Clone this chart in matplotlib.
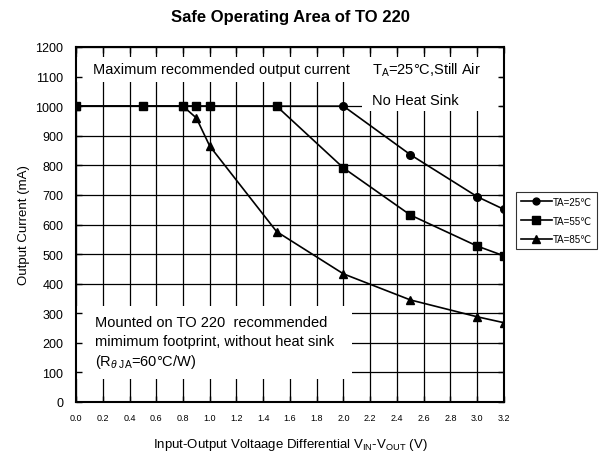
import matplotlib
matplotlib.use("Agg")
import matplotlib.pyplot as plt
from matplotlib.patches import Rectangle

plt.rcParams['font.family'] = ['Liberation Sans', 'DejaVu Sans']
plt.rcParams['mathtext.fontset'] = 'custom'
plt.rcParams['mathtext.rm'] = 'Liberation Sans'
plt.rcParams['mathtext.it'] = 'Liberation Sans:italic'

# Data
x25 = [0.0, 2.0, 2.5, 3.0, 3.2]
y25 = [1000, 1000, 836, 694, 651]
x55 = [0.0, 0.5, 0.8, 0.9, 1.0, 1.5, 2.0, 2.5, 3.0, 3.2]
y55 = [1000, 1000, 1000, 1000, 1000, 1000, 791, 632, 527, 494]
x85 = [0.0, 0.8, 0.9, 1.0, 1.5, 2.0, 2.5, 3.0, 3.2]
y85 = [1000, 1000, 960, 865, 576, 433, 345, 288, 268]
labels = ['TA=25\u2103', 'TA=55\u2103', 'TA=85\u2103']
xticks = [round(0.2 * i, 1) for i in range(17)]
yticks = list(range(0, 1201, 100))

fig = plt.figure(figsize=(6.02, 4.56), dpi=100)
rect = [76/602, 1 - 403/456, 428/602, 355/456]

# background axes carrying the grid only
gax = fig.add_axes(rect, zorder=0)
gax.set_xlim(0, 3.2)
gax.set_ylim(0, 1200)
gax.set_xticks(xticks)
gax.set_yticks(yticks)
gax.tick_params(length=0, labelbottom=False, labelleft=False)
gax.grid(True, color='black', linewidth=0.9)
for s in gax.spines.values():
    s.set_visible(False)

ax = fig.add_axes(rect, zorder=1)
ax.patch.set_visible(False)
ax.set_xlim(0, 3.2)
ax.set_ylim(0, 1200)
ax.set_xticks(xticks)
ax.set_xticklabels([f"{v:.1f}" for v in xticks], fontsize=6.5)
ax.set_yticks(yticks)
ax.set_yticklabels([str(v) for v in yticks], fontsize=9)
ax.tick_params(direction='in', length=4, width=1, top=True, right=True)
ax.tick_params(axis='y', pad=9)
ax.tick_params(axis='x', pad=8)
for s in ax.spines.values():
    s.set_linewidth(1.5)

# white annotation boxes covering the grid
for (x0, y0, w, h) in [(0.003, 0.901, 0.665, 0.071),
                       (0.668, 0.820, 0.323, 0.152),
                       (0.003, 0.065, 0.642, 0.205)]:
    ax.add_patch(Rectangle((x0, y0), w, h, transform=ax.transAxes,
                           facecolor='white', edgecolor='none', zorder=1))

l25, = ax.plot(x25, y25, color='black', lw=1.2, marker='o', ms=5.5, zorder=3, label=labels[0])
l85, = ax.plot(x85, y85, color='black', lw=1.2, marker='^', ms=6, zorder=3.5, label=labels[2])
l55, = ax.plot(x55, y55, color='black', lw=1.2, marker='s', ms=6, zorder=4, label=labels[1])

ax.text((93-76)/428, (403-70)/355, 'Maximum recommended output current',
        transform=ax.transAxes, fontsize=10.5, va='center', ha='left', zorder=5)
ax.text((372-76)/428, (403-70)/355, 'T$_\\mathrm{A}$=25°C,Still Air',
        transform=ax.transAxes, fontsize=10.5, va='center', ha='left', zorder=5)
ax.text((372-76)/428, (403-101)/355, 'No Heat Sink',
        transform=ax.transAxes, fontsize=10.5, va='center', ha='left', zorder=5)
ax.text((95-76)/428, (403-323)/355, 'Mounted on TO 220  recommended',
        transform=ax.transAxes, fontsize=10.5, va='center', ha='left', zorder=5)
ax.text((95-76)/428, (403-342)/355, 'mimimum footprint, without heat sink',
        transform=ax.transAxes, fontsize=10.5, va='center', ha='left', zorder=5)
ax.text((95-76)/428, (403-362)/355, '(R$_{\\theta\\ \\mathrm{JA}}$=60°C/W)',
        transform=ax.transAxes, fontsize=10.5, va='center', ha='left', zorder=5)

ax.set_xlabel('Input-Output Voltaage Differential V$_\\mathrm{IN}$-V$_\\mathrm{OUT}$ (V)',
              fontsize=9.5, labelpad=10)
ax.set_ylabel('Output Current (mA)', fontsize=9.5, labelpad=4)
ax.set_title('Safe Operating Area of TO 220', fontsize=12, fontweight='bold', pad=19)

leg = fig.legend(handles=[l25, l55, l85], labels=labels,
                 loc='upper left', bbox_to_anchor=(516/602, 1 - 193/456),
                 fontsize=7, frameon=True, fancybox=False, edgecolor='black',
                 handlelength=3.2, borderaxespad=0, borderpad=0.5,
                 labelspacing=0.9, handletextpad=0.1, markerscale=0.9)
leg.get_frame().set_linewidth(0.8)

fig.savefig('out.png', dpi=100)
